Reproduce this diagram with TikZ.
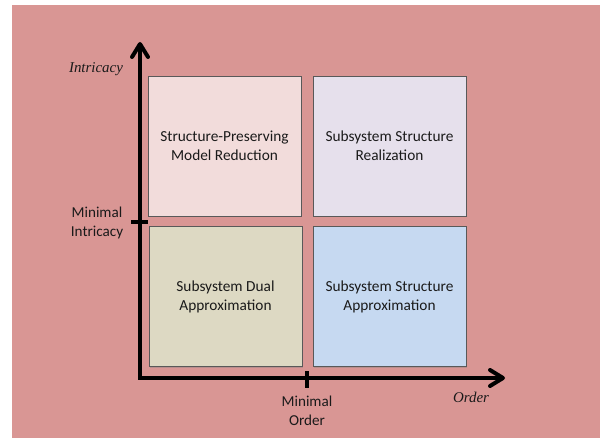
\documentclass[tikz,border=0pt]{standalone}
\usepackage{fontspec}
\setmainfont{Carlito}
\newfontfamily\tms{Liberation Serif}
\usetikzlibrary{arrows.meta,shadows}
\definecolor{bgpink}{HTML}{D99694}
\definecolor{qtl}{HTML}{F2DCDB}
\definecolor{qtr}{HTML}{E6E0EC}
\definecolor{qbl}{HTML}{DDD9C3}
\definecolor{qbr}{HTML}{C6D9F1}
\definecolor{edge}{HTML}{595959}
\definecolor{ink}{HTML}{1A1A1A}
\tikzset{
  quad/.style={draw=edge, line width=0.8bp, minimum width=153bp, minimum height=140bp,
    inner sep=0pt, align=center, text=ink, font=\fontsize{15.4}{19}\selectfont,
    drop shadow={shadow xshift=1bp, shadow yshift=-1bp, opacity=0.35}},
  axis/.style={line width=4bp, black, {Straight Barb[length=13bp,width=16bp,line width=4bp,round]}-{Straight Barb[length=13bp,width=16bp,line width=4bp,round]}},
  tickmark/.style={line width=4bp, black},
  lbl/.style={align=center, text=ink, font=\fontsize{15.2}{19}\selectfont, inner sep=0pt},
  ital/.style={font=\tms\itshape\fontsize{15}{18}\selectfont, text=ink, inner sep=0pt}
}
\begin{document}
\begin{tikzpicture}[x=1bp,y=-1bp]
\useasboundingbox (0,0) rectangle (600,438);
\fill[white] (0,0) rectangle (600,438);
\fill[bgpink] (12,5) rectangle (600,438);
% quadrants
\node[quad, fill=qtl] (tl) at (224.5,146) {Structure-Preserving\\Model Reduction};
\node[quad, fill=qtr] (tr) at (389.5,146) {Subsystem Structure\\Realization};
\node[quad, fill=qbl] (bl) at (225.5,296.5) {Subsystem Dual\\Approximation};
\node[quad, fill=qbr] (br) at (389.5,296.5) {Subsystem Structure\\Approximation};
% axes
\coordinate (ytop) at (140,42);
\coordinate (orig) at (140,378);
\coordinate (xend) at (505,378);
\draw[axis, line join=miter] (ytop) -- (orig) -- (xend);
% ticks
\coordinate (yt1) at (131,222);
\coordinate (yt2) at (148,222);
\coordinate (xt1) at (307,371);
\coordinate (xt2) at (307,388);
\draw[tickmark] (yt1) -- (yt2);
\draw[tickmark] (xt1) -- (xt2);
% labels
\node[ital] (intr) at (96,69) {Intricacy};
\node[ital] (ord) at (471,397) {Order};
\node[lbl] (mini) at (97,223) {Minimal\\Intricacy};
\node[lbl] (mino) at (307,411) {Minimal\\Order};
\end{tikzpicture}
\end{document}
